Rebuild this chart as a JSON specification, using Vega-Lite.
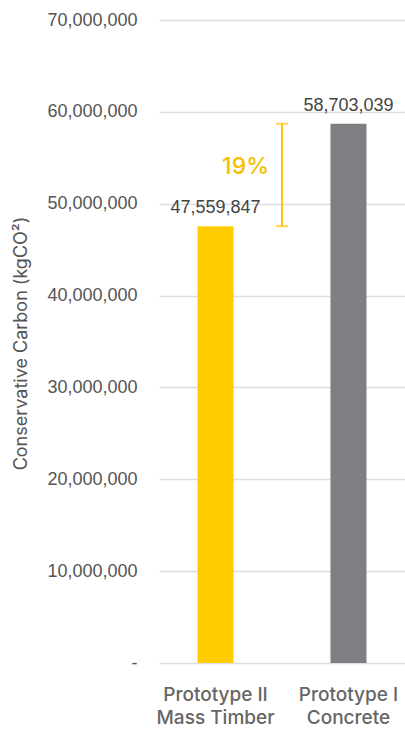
{
  "$schema": "https://vega.github.io/schema/vega-lite/v6.json",
  "width": 246,
  "height": 643,
  "autosize": {"type": "none"},
  "padding": {"left": 159, "top": 20, "right": 0, "bottom": 69},
  "background": "white",
  "config": {
    "view": {"stroke": null},
    "font": "Liberation Sans"
  },
  "layer": [
    {
      "data": {"values": [
        {"category": "Prototype II|Mass Timber", "value": 47559847, "series": "Mass Timber"},
        {"category": "Prototype I|Concrete", "value": 58703039, "series": "Concrete"}
      ]},
      "layer": [
        {
          "mark": {"type": "bar", "width": 36},
          "encoding": {
            "x": {
              "field": "category", "type": "nominal", "sort": null,
              "scale": {"paddingInner": 0.73, "paddingOuter": 0.29},
              "axis": {
                "title": null, "labelAngle": 0, "domain": false, "ticks": false,
                "labelExpr": "split(datum.label, '|')",
                "labelFont": "Inter", "labelFontSize": 19, "labelFontWeight": 500, "labelColor": "#666666",
                "labelPadding": 22, "labelLineHeight": 23, "labelBaseline": "top"
              }
            },
            "y": {
              "field": "value", "type": "quantitative",
              "scale": {"domain": [0, 70000000], "nice": false},
              "axis": {
                "title": "Conservative Carbon (kgCO²)",
                "values": [0,10000000,20000000,30000000,40000000,50000000,60000000,70000000],
                "labelExpr": "datum.value == 0 ? '-' : format(datum.value, ',')",
                "domain": false, "ticks": false, "labelPadding": 22,
                "labelFontSize": 18, "labelColor": "#555555",
                "gridColor": "#dddddd", "gridWidth": 1.5,
                "titleFont": "Inter", "titleFontSize": 18, "titleFontWeight": "normal", "titleColor": "#555555",
                "titleX": -138, "titleY": 323, "titleAngle": -90, "titleAlign": "center", "titleBaseline": "middle"
              }
            },
            "color": {
              "field": "series", "type": "nominal",
              "scale": {"domain": ["Mass Timber", "Concrete"], "range": ["#FFCC00", "#7E7F83"]},
              "legend": null
            }
          }
        },
        {
          "mark": {"type": "text", "dy": -13, "fontSize": 18, "color": "#444444", "baseline": "alphabetic"},
          "encoding": {
            "x": {"field": "category", "type": "nominal", "sort": null},
            "y": {"field": "value", "type": "quantitative"},
            "text": {"field": "value", "type": "quantitative", "format": ","}
          }
        }
      ]
    },
    {
      "data": {"values": [
        {"pos": 0.5, "lo": 47559847, "hi": 58703039, "mid": 54050000, "label": "19%"}
      ]},
      "layer": [
        {
          "mark": {"type": "rule", "color": "#FFC20E", "strokeWidth": 2},
          "encoding": {
            "x": {"field": "pos", "type": "quantitative", "scale": {"domain": [0, 1]}, "axis": null},
            "y": {"field": "lo", "type": "quantitative", "axis": null},
            "y2": {"field": "hi"}
          }
        },
        {
          "mark": {"type": "tick", "orient": "horizontal", "color": "#FFC20E", "size": 12, "thickness": 2},
          "encoding": {
            "x": {"field": "pos", "type": "quantitative", "scale": {"domain": [0, 1]}, "axis": null},
            "y": {"field": "lo", "type": "quantitative", "axis": null}
          }
        },
        {
          "mark": {"type": "tick", "orient": "horizontal", "color": "#FFC20E", "size": 12, "thickness": 2},
          "encoding": {
            "x": {"field": "pos", "type": "quantitative", "scale": {"domain": [0, 1]}, "axis": null},
            "y": {"field": "hi", "type": "quantitative", "axis": null}
          }
        },
        {
          "mark": {"type": "text", "align": "right", "baseline": "middle", "dx": -13, "fontSize": 23, "fontWeight": 500, "font": "Inter", "color": "#F5C000"},
          "encoding": {
            "x": {"field": "pos", "type": "quantitative", "scale": {"domain": [0, 1]}, "axis": null},
            "y": {"field": "mid", "type": "quantitative", "axis": null},
            "text": {"field": "label"}
          }
        }
      ]
    }
  ],
  "resolve": {"scale": {"x": "independent"}, "axis": {"y": "independent"}}
}
